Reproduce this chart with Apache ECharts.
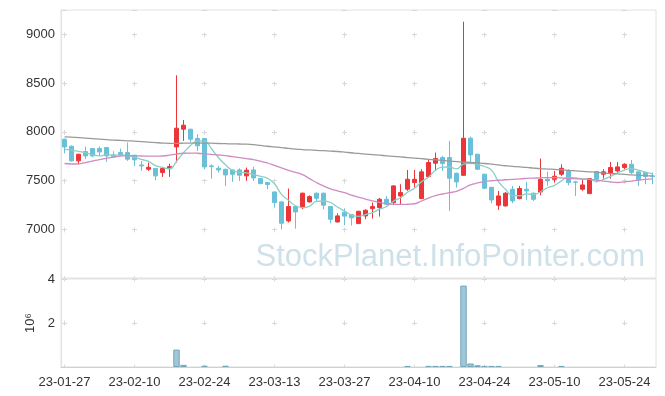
<!DOCTYPE html>
<html><head><meta charset="utf-8">
<script src="https://cdn.jsdelivr.net/npm/echarts@6/dist/echarts.min.js"></script>
<style>html,body{margin:0;padding:0;background:#fff}#c{width:665px;height:396px}</style>
</head><body><div id="c"></div>
<script>
var dates = ['2023-01-27','2023-01-30','2023-01-31','2023-02-01','2023-02-02','2023-02-03','2023-02-06','2023-02-07','2023-02-08','2023-02-09','2023-02-10',
'2023-02-13','2023-02-14','2023-02-15','2023-02-16','2023-02-17','2023-02-20','2023-02-21','2023-02-22','2023-02-23','2023-02-24',
'2023-02-27','2023-02-28','2023-03-02','2023-03-03','2023-03-06','2023-03-07','2023-03-08','2023-03-09','2023-03-10','2023-03-13',
'2023-03-14','2023-03-15','2023-03-16','2023-03-17','2023-03-20','2023-03-21','2023-03-22','2023-03-23','2023-03-24','2023-03-27',
'2023-03-28','2023-03-29','2023-03-30','2023-03-31','2023-04-03','2023-04-04','2023-04-05','2023-04-06','2023-04-07','2023-04-10',
'2023-04-11','2023-04-12','2023-04-13','2023-04-14','2023-04-17','2023-04-18','2023-04-19','2023-04-20','2023-04-21','2023-04-24',
'2023-04-25','2023-04-26','2023-04-27','2023-04-28','2023-05-02','2023-05-03','2023-05-04','2023-05-08','2023-05-09','2023-05-10',
'2023-05-11','2023-05-12','2023-05-15','2023-05-16','2023-05-17','2023-05-18','2023-05-19','2023-05-22','2023-05-23','2023-05-24',
'2023-05-25','2023-05-26','2023-05-30','2023-05-31'];

var openP  = [7924,7852,7702,7797,7828,7828,7838,7763,7787,7787,7760,7660,7616,7623,7582,7623,7845,8027,8027,7931,7931,
7650,7626,7616,7609,7609,7548,7609,7520,7479,7383,7281,7086,7233,7222,7281,7370,7370,7233,7075,7175,
7152,7058,7137,7212,7222,7308,7274,7342,7411,7479,7315,7541,7678,7736,7736,7575,7554,7934,7770,7565,
7430,7247,7240,7411,7315,7411,7370,7383,7513,7513,7565,7599,7486,7411,7366,7592,7565,7575,7599,7633,
7667,7589,7582,7548];
var closeP = [7845,7702,7770,7753,7753,7794,7753,7746,7763,7719,7712,7650,7636,7548,7623,7643,8037,8068,7924,7856,7640,
7643,7609,7558,7565,7555,7606,7527,7469,7459,7274,7062,7233,7178,7370,7335,7318,7247,7103,7137,7135,
7118,7185,7195,7233,7308,7257,7445,7377,7513,7513,7589,7685,7725,7674,7524,7486,7934,7763,7616,7421,
7301,7342,7370,7291,7418,7394,7308,7513,7496,7544,7626,7479,7483,7455,7520,7513,7589,7633,7640,7667,
7582,7507,7541,7541];
var lowP   = [7780,7695,7667,7719,7740,7753,7691,7735,7753,7702,7650,7599,7599,7503,7537,7537,7684,7907,7897,7804,7616,
7520,7582,7445,7486,7496,7496,7496,7462,7411,7223,7000,7069,7007,7205,7274,7291,7205,7062,7069,7041,
7038,7055,7103,7110,7130,7247,7247,7247,7394,7428,7310,7530,7599,7599,7188,7428,7548,7667,7609,7411,
7267,7199,7233,7267,7308,7301,7291,7349,7445,7479,7548,7452,7342,7394,7362,7479,7520,7520,7582,7616,
7565,7445,7462,7462];
var highP  = [7930,7860,7775,7849,7835,7849,7845,7800,7828,7890,7765,7700,7684,7630,7628,7674,8580,8122,8030,7975,7935,
7667,7650,7620,7612,7625,7633,7640,7525,7486,7386,7285,7418,7236,7377,7349,7377,7377,7236,7164,7215,
7155,7188,7205,7274,7322,7342,7452,7462,7609,7609,7616,7719,7787,7753,7907,7582,9130,7951,7775,7570,
7435,7394,7383,7445,7445,7486,7377,7725,7592,7599,7667,7616,7496,7513,7525,7595,7616,7691,7691,7678,
7712,7592,7585,7582];

var ma5 = [7820,7812,7800,7785,7765,7754,7765,7760,7762,7755,7739,7718,7696,7653,7634,7620,7697,7784,7859,7906,7905,
7826,7734,7661,7603,7586,7579,7562,7544,7523,7467,7358,7299,7241,7223,7236,7287,7290,7275,7228,7187,
7147,7133,7151,7170,7206,7234,7288,7324,7380,7421,7487,7535,7605,7637,7639,7619,7669,7676,7665,7644,
7607,7489,7410,7345,7344,7363,7356,7385,7426,7451,7497,7532,7526,7517,7513,7490,7512,7542,7579,7608,
7622,7606,7587,7568];
var ma20 = [7675,7670,7672,7685,7700,7715,7728,7740,7750,7755,7755,7752,7750,7750,7752,7760,7772,7780,7782,7780,7775,
7768,7762,7755,7745,7735,7725,7715,7700,7680,7655,7630,7605,7585,7560,7520,7480,7445,7415,7395,7375,
7350,7330,7310,7292,7275,7262,7257,7255,7257,7262,7290,7320,7345,7362,7375,7390,7420,7455,7475,7490,
7498,7503,7508,7512,7518,7522,7525,7528,7530,7530,7528,7522,7518,7515,7512,7505,7495,7485,7480,7485,
7495,7505,7512,7518];
var ma60 = [7948,7945,7940,7935,7930,7925,7920,7915,7912,7908,7905,7900,7895,7890,7885,7882,7882,7883,7885,7885,7885,
7883,7880,7878,7876,7875,7873,7868,7860,7852,7845,7838,7830,7823,7818,7814,7810,7806,7802,7798,7792,
7785,7778,7772,7766,7760,7754,7748,7742,7736,7730,7724,7718,7712,7706,7700,7695,7690,7685,7680,7675,
7668,7660,7652,7645,7640,7635,7628,7622,7618,7615,7610,7605,7600,7595,7590,7585,7578,7572,7568,7563,
7558,7555,7550,7548];

// volume in millions of shares
var volumeM = [0.01,0.01,0.01,0.01,0.01,0.01,0.01,0.01,0.01,0.01,0.01,0.01,0.01,0.01,0.01,0.01,0.79,0.10,0.01,0.01,0.06,
0.01,0.01,0.06,0.01,0.01,0.01,0.01,0.01,0.01,0.01,0.01,0.01,0.01,0.01,0.01,0.01,0.01,0.01,0.01,0.01,
0.01,0.01,0.01,0.01,0.01,0.01,0.01,0.01,0.05,0.01,0.01,0.05,0.05,0.05,0.05,0.01,3.70,0.16,0.08,0.05,
0.05,0.05,0.01,0.01,0.01,0.01,0.01,0.09,0.01,0.01,0.05,0.01,0.01,0.01,0.01,0.01,0.01,0.01,0.01,0.01,
0.01,0.01,0.01,0.01];

var priceTicks = {min: 6500, max: 9250, interval: 500};
var volTicks = {min: 0, max: 4, interval: 2};

var candleData = dates.map(function (d, i) { return [openP[i], closeP[i], lowP[i], highP[i]]; });
var volData = volumeM.map(function (v) {
  return v < 0.03 ? {value: v, itemStyle: {borderWidth: 0, opacity: 0.15}} : v;
});

var frame = '#e2e2e2';
var crossColor = '#d8d8d8';
var font = 'sans-serif';

var chart = echarts.init(document.getElementById('c'), null, {renderer: 'canvas'});
chart.setOption({
  animation: false,
  backgroundColor: '#fff',
  grid: [
    {left: 61, right: 9, top: 10, height: 268, show: true, borderColor: frame, borderWidth: 1},
    {left: 61, right: 9, top: 279, height: 88, show: true, borderColor: frame, borderWidth: 1}
  ],
  graphic: [{
    type: 'text', right: 20, top: 242, z: 0, silent: true,
    style: {text: 'StockPlanet.InfoPointer.com', font: '31px sans-serif', fill: 'rgba(165,198,215,0.55)'}
  }],
  xAxis: [
    {type: 'category', gridIndex: 0, data: dates, boundaryGap: true,
     axisLine: {lineStyle: {color: frame}}, axisTick: {show: false}, axisLabel: {show: false},
     splitLine: {show: true, interval: 9, alignWithLabel: true,
       lineStyle: {color: crossColor, width: 1, type: [5, 43.727], dashOffset: 26.227}}},
    {type: 'category', gridIndex: 1, data: dates, boundaryGap: true,
     axisLine: {lineStyle: {color: '#d0d0d0'}}, axisTick: {show: false},
     axisLabel: {interval: 9, color: '#333', fontSize: 13, fontFamily: font, margin: 9,
       formatter: function (v) { return v.slice(2); }},
     splitLine: {show: true, interval: 9, alignWithLabel: true,
       lineStyle: {color: crossColor, width: 1, type: [5, 39], dashOffset: 2.5}}}
  ],
  yAxis: [
    {type: 'value', gridIndex: 0, min: priceTicks.min, max: priceTicks.max, interval: priceTicks.interval,
     axisLine: {show: true, lineStyle: {color: frame}}, axisTick: {show: false},
     axisLabel: {color: '#333', fontSize: 13, fontFamily: font, margin: 6, showMinLabel: false, showMaxLabel: false,
       formatter: function (v) { return String(v); }},
     splitLine: {show: true, lineStyle: {color: crossColor, width: 1, type: [5, 65], dashOffset: 69}}},
    {type: 'value', gridIndex: 1, min: volTicks.min, max: volTicks.max, interval: volTicks.interval,
     name: '10\u2076', nameLocation: 'middle', nameRotate: 90, nameGap: 24,
     nameTextStyle: {color: '#333', fontSize: 13, fontFamily: font},
     axisLine: {show: true, lineStyle: {color: frame}}, axisTick: {show: false},
     axisLabel: {color: '#333', fontSize: 13, fontFamily: font, margin: 6, showMinLabel: false},
     splitLine: {show: true, lineStyle: {color: crossColor, width: 1, type: [5, 65], dashOffset: 69}}}
  ],
  series: [
    {type: 'candlestick', name: 'price', xAxisIndex: 0, yAxisIndex: 0, data: candleData, barWidth: '70%',
     itemStyle: {color: '#ec3538', color0: '#69c0d8', borderColor: '#ec3538', borderColor0: '#69c0d8', borderWidth: 1}},
    {type: 'line', name: 'MA5', xAxisIndex: 0, yAxisIndex: 0, data: ma5, symbol: 'none', smooth: true,
     lineStyle: {color: '#88cfc6', width: 1.3}, z: 3},
    {type: 'line', name: 'MA20', xAxisIndex: 0, yAxisIndex: 0, data: ma20, symbol: 'none', smooth: true,
     lineStyle: {color: '#cf8cc3', width: 1.3}, z: 3},
    {type: 'line', name: 'MA60', xAxisIndex: 0, yAxisIndex: 0, data: ma60, symbol: 'none', smooth: true,
     lineStyle: {color: '#9a9a9a', width: 1.3}, z: 3},
    {type: 'bar', name: 'volume', xAxisIndex: 1, yAxisIndex: 1, data: volData, barCategoryGap: '8%',
     itemStyle: {color: '#9fc7d6', borderColor: '#72a6bb', borderWidth: 1}}
  ]
});
</script></body></html>
